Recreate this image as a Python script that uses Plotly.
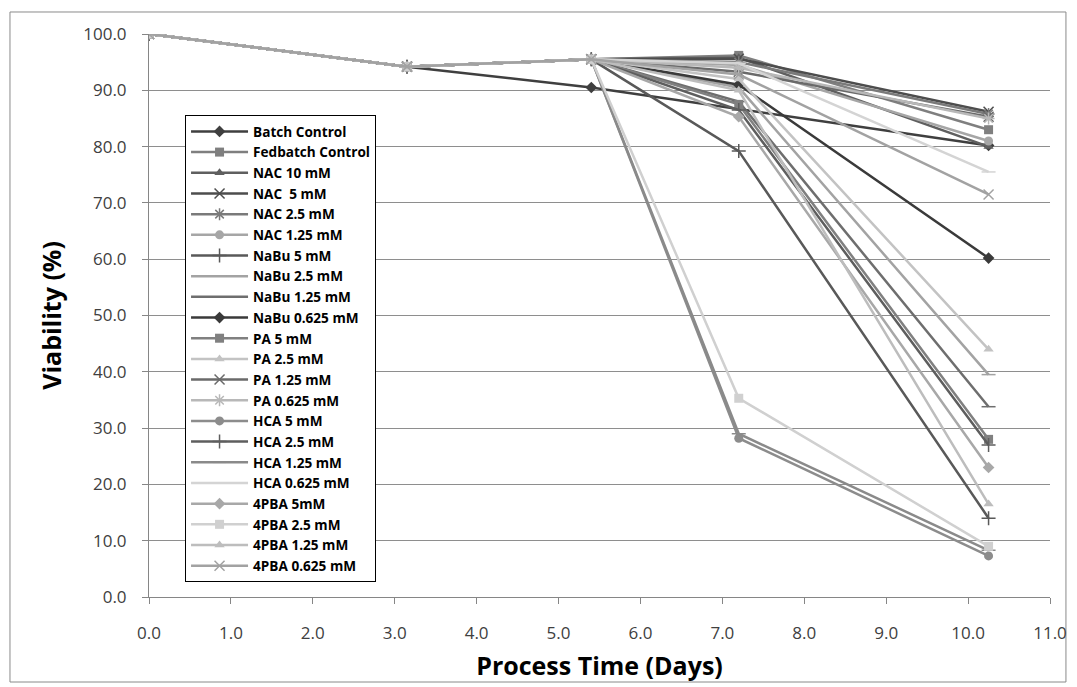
import plotly.graph_objects as go

days = [0.0, 3.15, 5.4, 7.2, 10.25]

series_names = [
    "Batch Control", "Fedbatch Control", "NAC 10 mM", "NAC  5 mM", "NAC 2.5 mM", "NAC 1.25 mM",
    "NaBu 5 mM", "NaBu 2.5 mM", "NaBu 1.25 mM", "NaBu 0.625 mM",
    "PA 5 mM", "PA 2.5 mM", "PA 1.25 mM", "PA 0.625 mM",
    "HCA 5 mM", "HCA 2.5 mM", "HCA 1.25 mM", "HCA 0.625 mM",
    "4PBA 5mM", "4PBA 2.5 mM", "4PBA 1.25 mM", "4PBA 0.625 mM",
]

batch_control = [100.0, 94.2, 90.5, None, 80.2]
fedbatch_control = [100.0, 94.2, 95.5, 96.2, 83.0]
nac_10 = [100.0, 94.2, 95.5, 95.8, 80.0]
nac_5 = [100.0, 94.2, 95.5, 95.6, 86.2]
nac_2_5 = [100.0, 94.2, 95.5, 95.0, 85.8]
nac_1_25 = [100.0, 94.2, 95.5, 94.5, 81.0]
nabu_5 = [100.0, 94.2, 95.5, 79.2, 14.0]
nabu_2_5 = [100.0, 94.2, 95.5, 90.5, 39.5]
nabu_1_25 = [100.0, 94.2, 95.5, 88.0, 33.8]
nabu_0_625 = [100.0, 94.2, 95.5, 91.0, 60.2]
pa_5 = [100.0, 94.2, 95.5, 87.5, 28.0]
pa_2_5 = [100.0, 94.2, 95.5, 92.0, 44.0]
pa_1_25 = [100.0, 94.2, 95.5, 93.3, 85.3]
pa_0_625 = [100.0, 94.2, 95.5, 94.0, 85.0]
hca_5 = [100.0, 94.2, 95.5, 28.2, 7.3]
hca_2_5 = [100.0, 94.2, 95.5, 86.5, 27.0]
hca_1_25 = [100.0, 94.2, 95.5, 29.0, 8.3]
hca_0_625 = [100.0, 94.2, 95.5, 94.8, 75.5]
pba_5 = [100.0, 94.2, 95.5, 85.3, 23.0]
pba_2_5 = [100.0, 94.2, 95.5, 35.3, 9.0]
pba_1_25 = [100.0, 94.2, 95.5, 90.0, 16.5]
pba_0_625 = [100.0, 94.2, 95.5, 92.8, 71.5]

values = [
    batch_control, fedbatch_control, nac_10, nac_5, nac_2_5, nac_1_25,
    nabu_5, nabu_2_5, nabu_1_25, nabu_0_625,
    pa_5, pa_2_5, pa_1_25, pa_0_625,
    hca_5, hca_2_5, hca_1_25, hca_0_625,
    pba_5, pba_2_5, pba_1_25, pba_0_625,
]

colors = [
    "#3f3f3f", "#7f7f7f", "#5f5f5f", "#4d4d4d", "#7a7a7a", "#a6a6a6",
    "#595959", "#a3a3a3", "#6e6e6e", "#3a3a3a",
    "#808080", "#c3c3c3", "#6a6a6a", "#b8b8b8",
    "#8c8c8c", "#5e5e5e", "#8a8a8a", "#d4d4d4",
    "#a8a8a8", "#d0d0d0", "#bdbdbd", "#a2a2a2",
]

symbols = [
    "diamond", "square", "triangle-up", "x-thin-open", "asterisk-open", "circle",
    "cross-thin-open", "line-ew-open", "line-ew-open", "diamond",
    "square", "triangle-up", "x-thin-open", "asterisk-open",
    "circle", "cross-thin-open", "line-ew-open", "line-ew-open",
    "diamond", "square", "triangle-up", "x-thin-open",
]

fig = go.Figure()
for name, vals, col, sym in zip(series_names, values, colors, symbols):
    open_sym = sym.endswith("-open")
    fig.add_trace(go.Scatter(
        x=days, y=vals, name=name, mode="lines+markers", connectgaps=True,
        line=dict(color=col, width=2.5),
        marker=dict(symbol=sym, size=10 if open_sym else 9, color=col,
                    line=dict(color=col, width=1.5 if open_sym else 0)),
    ))

axis_font = dict(family="'Open Sans', sans-serif", size=17, color="#404040")
title_font = dict(family="'Open Sans', sans-serif", size=25, color="#000000")

fig.update_layout(
    width=1077, height=687,
    margin=dict(l=149, r=27, t=34, b=90),
    paper_bgcolor="white", plot_bgcolor="white",
    showlegend=True,
    legend=dict(
        x=0.04, y=0.856, xanchor="left", yanchor="top",
        bgcolor="white", bordercolor="#000000", borderwidth=1,
        font=dict(family="'Open Sans', sans-serif", size=13.6, color="#000000", weight="bold"),
        tracegroupgap=0, itemwidth=57,
    ),
    xaxis=dict(
        range=[0, 11], tick0=0, dtick=1, tickformat=".1f",
        showgrid=False, zeroline=False, automargin=False,
        showline=True, linecolor="#868686", linewidth=1,
        ticks="outside", ticklen=6, tickcolor="#868686",
        tickfont=axis_font, ticklabelstandoff=15,
        title=dict(text="<b>Process Time (Days)</b>", font=title_font, standoff=14),
    ),
    yaxis=dict(
        range=[0, 100], tick0=0, dtick=10, tickformat=".1f",
        showgrid=True, gridcolor="#8e8e8e", gridwidth=1, zeroline=False, automargin=False,
        showline=True, linecolor="#868686", linewidth=1,
        ticks="outside", ticklen=6, tickcolor="#868686",
        tickfont=axis_font, ticklabelstandoff=12,
        title=dict(text="<b>Viability (%)</b>", font=title_font, standoff=14),
    ),
    shapes=[dict(
        type="rect", xref="paper", yref="paper",
        x0=-0.1543, x1=1.0177, y0=-0.1510, y1=1.0391,
        line=dict(color="#8a8a8a", width=1), fillcolor="rgba(0,0,0,0)", layer="below",
    )],
)

fig.write_html("out.html")
